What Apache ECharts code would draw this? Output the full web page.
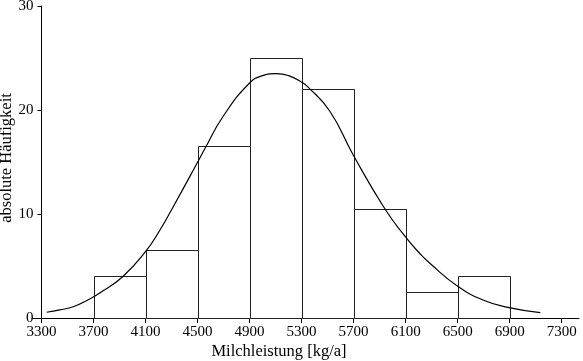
<!DOCTYPE html>
<html>
<head>
<meta charset="utf-8">
<script src="https://cdn.jsdelivr.net/npm/echarts@6/dist/echarts.min.js"></script>
<style>
  html, body { margin: 0; padding: 0; background: #fff; }
  #chart { width: 583px; height: 361px; }
</style>
</head>
<body>
<div id="chart"></div>
<script>
// histogram bins (kg/a) and counts
const binStart = [3700, 4100, 4500, 4900, 5300, 5700, 6100, 6500];
const binEnd = [4100, 4500, 4900, 5300, 5700, 6100, 6500, 6900];
const counts = [4.0, 6.5, 16.5, 25, 22, 10.5, 2.5, 4.0];

// fitted curve
const curveX = [3340, 3440, 3544, 3673, 3742, 3924, 4101, 4211, 4313, 4497, 4557, 4697, 4900, 5000, 5107, 5200, 5297, 5350, 5516, 5696, 5940, 6099, 6209, 6286, 6498, 6695, 6895, 7136];
const curveY = [0.55, 0.78, 1.08, 1.85, 2.35, 3.97, 6.4, 8.46, 10.7, 14.9, 16.3, 19.4, 22.6, 23.3, 23.5, 23.3, 22.7, 22.2, 19.9, 15.7, 10.5, 7.8, 6.2, 5.26, 3.08, 1.73, 0.99, 0.51];

// axis ticks
const xTicks = [3300, 3700, 4100, 4500, 4900, 5300, 5700, 6100, 6500, 6900, 7300];

const font = 'Liberation Serif';
const chart = echarts.init(document.getElementById('chart'), null, { renderer: 'canvas' });

const barData = binStart.map((s, i) => [s, binEnd[i], counts[i]]);
const lineData = curveX.map((x, i) => [x, curveY[i]]);

const option = {
  animation: false,
  backgroundColor: '#fff',
  grid: { left: 32, right: 4, top: 6, bottom: 43, containLabel: false, outerBoundsMode: 'none' },
  xAxis: {
    type: 'value',
    min: 3227,
    max: 7433,
    name: 'Milchleistung [kg/a]',
    nameLocation: 'middle',
    nameGap: 25,
    nameMoveOverlap: false,
    nameTextStyle: { fontFamily: font, fontSize: 16.5, color: '#000', padding: [0, 53, 0, 0] },
    axisLine: { lineStyle: { color: '#000', width: 1 } },
    axisTick: { show: true, length: 5, customValues: xTicks, lineStyle: { color: '#000' } },
    axisLabel: {
      customValues: xTicks, margin: 7, fontFamily: font, fontSize: 15, color: '#000',
      formatter: v => String(v)
    },
    splitLine: { show: false }
  },
  yAxis: {
    type: 'value',
    min: 0,
    max: 30,
    interval: 10,
    offset: -9.5,
    name: 'absolute Häufigkeit',
    nameLocation: 'middle',
    nameGap: 26,
    nameMoveOverlap: false,
    nameTextStyle: { fontFamily: font, fontSize: 16.5, color: '#000', padding: [0, 0, 0, 8] },
    axisLine: { show: true, lineStyle: { color: '#000', width: 1 } },
    axisTick: { show: true, length: 4, lineStyle: { color: '#000' } },
    axisLabel: { margin: 8, fontFamily: font, fontSize: 15, color: '#000' },
    splitLine: { show: false }
  },
  series: [
    {
      type: 'custom',
      data: barData,
      encode: { x: [0, 1], y: 2 },
      renderItem: (params, api) => {
        const p0 = api.coord([api.value(0), 0]);
        const p1 = api.coord([api.value(1), api.value(2)]);
        const x0 = Math.round(p0[0]) + 0.5;
        const x1 = Math.round(p1[0]) + 0.5;
        const y1 = Math.round(p1[1]) + 0.5;
        const y0 = Math.round(p0[1]) + 0.5;
        return {
          type: 'rect',
          shape: { x: x0, y: y1, width: x1 - x0, height: y0 - y1 },
          style: { fill: '#fff', stroke: '#222', lineWidth: 1 }
        };
      },
      z: 2
    },
    {
      type: 'line',
      data: lineData,
      showSymbol: false,
      smooth: 0.5,
      lineStyle: { color: '#000', width: 1.2 },
      z: 3
    }
  ]
};

chart.setOption(option);
</script>
</body>
</html>
